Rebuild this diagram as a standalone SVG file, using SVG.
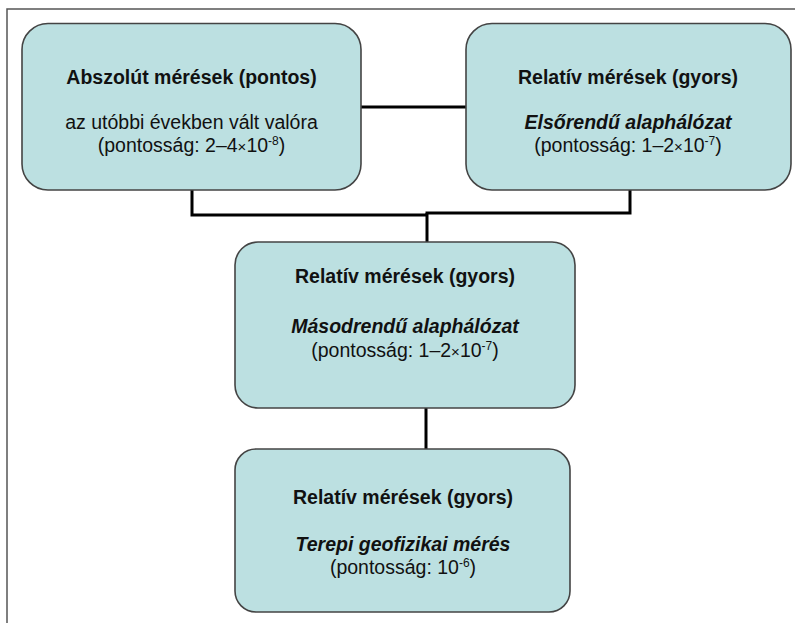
<svg xmlns="http://www.w3.org/2000/svg" width="795" height="623" viewBox="0 0 795 623">
<style>
.box{fill:#bce0e1;stroke:#444;stroke-width:1.6}
.t{font-family:"Liberation Sans",Arial,sans-serif;font-size:19.5px;fill:#111;text-anchor:middle}
.b{font-weight:bold}
.i{font-weight:bold;font-style:italic}
.sup{font-size:12px}
.conn{fill:none;stroke:#000;stroke-width:3}
.frame{fill:none;stroke:#555;stroke-width:1.5}
</style>
<rect width="795" height="623" fill="#fff"/>
<path class="frame" d="M7,623 V9 H795"/>
<g id="connectors">
<path class="conn" d="M361,107 H466"/>
<path class="conn" d="M192,190 V215 H427"/>
<path class="conn" d="M630,190 V213 H425.5"/>
<path class="conn" d="M427,213 V242"/>
<path class="conn" d="M426,408 V449"/>
</g>
<g id="abszolut">
<rect class="box" x="22" y="23.5" width="339" height="166.5" rx="26" ry="26"/>
<text class="t b" x="191.5" y="84">Abszolút mérések (pontos)</text>
<text class="t" x="191.5" y="129">az utóbbi években vált valóra</text>
<text class="t" x="191.5" y="152">(pontosság: 2–4<tspan font-size="15">×</tspan>10<tspan class="sup" dy="-7">-8</tspan><tspan dy="7">)</tspan></text>
</g>
<g id="elsorendu">
<rect class="box" x="466" y="23.5" width="325" height="166.5" rx="26" ry="26"/>
<text class="t b" x="628" y="84">Relatív mérések (gyors)</text>
<text class="t i" x="628" y="129">Elsőrendű alaphálózat</text>
<text class="t" x="628" y="152">(pontosság: 1–2<tspan font-size="15">×</tspan>10<tspan class="sup" dy="-7">-7</tspan><tspan dy="7">)</tspan></text>
</g>
<g id="masodrendu">
<rect class="box" x="235" y="242" width="340" height="166" rx="23" ry="23"/>
<text class="t b" x="405" y="283">Relatív mérések (gyors)</text>
<text class="t i" x="405" y="333">Másodrendű alaphálózat</text>
<text class="t" x="405" y="357">(pontosság: 1–2<tspan font-size="15">×</tspan>10<tspan class="sup" dy="-7">-7</tspan><tspan dy="7">)</tspan></text>
</g>
<g id="terepi">
<rect class="box" x="235" y="449" width="335" height="163" rx="21" ry="21"/>
<text class="t b" x="403" y="504">Relatív mérések (gyors)</text>
<text class="t i" x="403" y="551">Terepi geofizikai mérés</text>
<text class="t" x="403" y="574">(pontosság: 10<tspan class="sup" dy="-7">-6</tspan><tspan dy="7">)</tspan></text>
</g>
</svg>
